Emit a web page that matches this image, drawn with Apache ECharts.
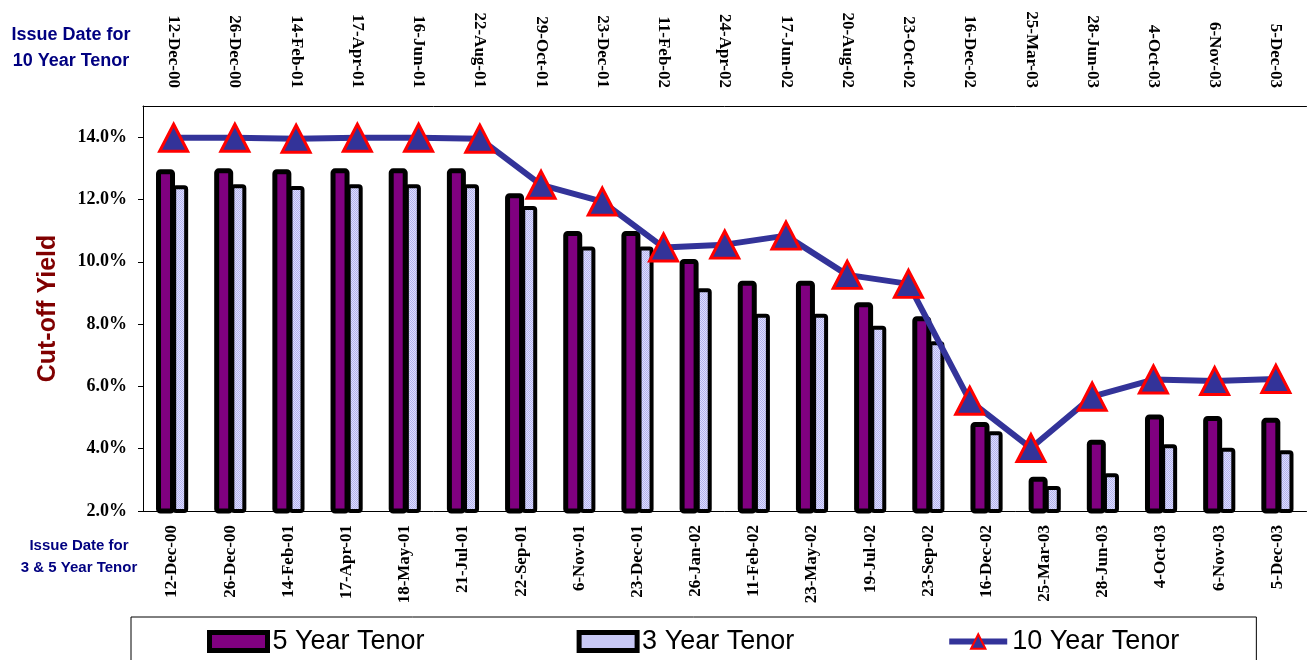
<!DOCTYPE html>
<html>
<head>
<meta charset="utf-8">
<title>Cut-off Yield</title>
<script src="https://cdn.jsdelivr.net/npm/echarts@6/dist/echarts.min.js"></script>
<style>
  html, body { margin: 0; padding: 0; background: #fff; }
  #chart { width: 1312px; height: 660px; }
</style>
</head>
<body>
<div id="chart"></div>
<script>
// issue dates for 3 & 5 year tenor (bottom axis)
const dates35 = ['12-Dec-00', '26-Dec-00', '14-Feb-01', '17-Apr-01', '18-May-01', '21-Jul-01',
  '22-Sep-01', '6-Nov-01', '23-Dec-01', '26-Jan-02', '11-Feb-02', '23-May-02', '19-Jul-02',
  '23-Sep-02', '16-Dec-02', '25-Mar-03', '28-Jun-03', '4-Oct-03', '6-Nov-03', '5-Dec-03'];

// issue dates for 10 year tenor (top axis)
const dates10 = ['12-Dec-00', '26-Dec-00', '14-Feb-01', '17-Apr-01', '16-Jun-01', '22-Aug-01',
  '29-Oct-01', '23-Dec-01', '11-Feb-02', '24-Apr-02', '17-Jun-02', '20-Aug-02', '23-Oct-02',
  '16-Dec-02', '25-Mar-03', '28-Jun-03', '4-Oct-03', '6-Nov-03', '5-Dec-03'];

// cut-off yields (%)
const fiveYear = [12.97, 13.0, 12.97, 13.0, 13.0, 13.0, 12.2, 10.99, 10.99, 10.09,
  9.39, 9.39, 8.7, 8.25, 4.86, 3.1, 4.29, 5.1, 5.05, 4.99];
const threeYear = [12.46, 12.49, 12.43, 12.49, 12.49, 12.49, 11.79, 10.49, 10.49, 9.15,
  8.33, 8.33, 7.95, 7.45, 4.56, 2.8, 3.21, 4.14, 4.03, 3.95];
const tenYear = [13.98, 13.98, 13.95, 13.98, 13.98, 13.95, 12.47, 11.93, 10.46, 10.55,
  10.84, 9.58, 9.29, 5.54, 4.02, 5.67, 6.22, 6.17, 6.24];

const serif = "'Liberation Serif', 'Times New Roman', serif";
const sans = "'Liberation Sans', Arial, sans-serif";

// dotted lavender fill, like the excel pattern
function dotPattern() {
  const c = document.createElement('canvas');
  c.width = 2;
  c.height = 2;
  const ctx = c.getContext('2d');
  ctx.fillStyle = '#dedefd';
  ctx.fillRect(0, 0, 2, 2);
  ctx.fillStyle = '#b2b2ee';
  ctx.fillRect(0, 0, 1, 1);
  ctx.fillRect(1, 1, 1, 1);
  return { image: c, repeat: 'repeat' };
}

const dots = dotPattern();

const myChart = echarts.init(document.getElementById('chart'));

const labelStyle = {
  fontFamily: serif,
  fontWeight: 'bold',
  fontSize: 17,
  color: '#000'
};

const option = {
  animation: false,
  backgroundColor: '#fff',
  grid: {
    left: 143,
    right: 5.5,
    top: 106,
    bottom: 149,
    outerBoundsMode: 'none'
  },
  legend: {
    left: 131,
    top: 617,
    padding: [11, 77, 40, 76],
    borderColor: '#000',
    borderWidth: 1,
    itemGap: 152,
    itemWidth: 58,
    itemHeight: 18,
    textStyle: { fontFamily: sans, fontSize: 27, color: '#000' },
    data: [
      { name: '5 Year Tenor', icon: 'rect', itemStyle: { color: '#800080', borderColor: '#000', borderWidth: 5 } },
      { name: '3 Year Tenor', icon: 'rect', itemStyle: { color: dots, borderColor: '#000', borderWidth: 5 } },
      { name: '10 Year Tenor', lineStyle: { color: '#333399', width: 6 } }
    ]
  },
  graphic: [
    {
      type: 'text',
      x: 71,
      y: 48,
      style: {
        text: 'Issue Date for\n10 Year Tenor',
        align: 'center',
        verticalAlign: 'middle',
        lineHeight: 26,
        fontFamily: sans,
        fontWeight: 'bold',
        fontSize: 18,
        fill: '#000080'
      }
    },
    {
      type: 'text',
      x: 79,
      y: 557,
      style: {
        text: 'Issue Date for\n3 & 5 Year Tenor',
        align: 'center',
        verticalAlign: 'middle',
        lineHeight: 22,
        fontFamily: sans,
        fontWeight: 'bold',
        fontSize: 15,
        fill: '#000080'
      }
    }
  ],
  xAxis: [
    {
      type: 'category',
      data: dates35,
      position: 'bottom',
      axisLine: { lineStyle: { color: '#000', width: 1 } },
      axisTick: { length: 5, lineStyle: { color: '#000' } },
      axisLabel: Object.assign({ rotate: 90, margin: 14, interval: 0 }, labelStyle)
    },
    {
      type: 'category',
      data: dates10,
      position: 'top',
      axisLine: { lineStyle: { color: '#000', width: 1 } },
      axisTick: { length: 5, lineStyle: { color: '#000' } },
      axisLabel: Object.assign({ rotate: 90, margin: 18, interval: 0 }, labelStyle)
    }
  ],
  yAxis: {
    type: 'value',
    min: 2,
    max: 15,
    interval: 2,
    name: 'Cut-off Yield',
    nameLocation: 'middle',
    nameRotate: 90,
    nameGap: 82,
    nameTextStyle: { fontFamily: sans, fontWeight: 'bold', fontSize: 25, color: '#800000' },
    axisLine: { show: true, lineStyle: { color: '#000', width: 1 } },
    axisTick: { show: true, length: 5, lineStyle: { color: '#000' } },
    splitLine: { show: false },
    axisLabel: Object.assign({
      margin: 16,
      showMaxLabel: false,
      formatter: function (v) { return v.toFixed(1) + '%'; }
    }, labelStyle, { fontSize: 18 })
  },
  series: [
    {
      name: '5 Year Tenor',
      type: 'bar',
      data: fiveYear,
      barWidth: 19,
      barGap: '-15%',
      itemStyle: { color: '#800080', borderColor: '#000', borderWidth: 5, borderRadius: 2 }
    },
    {
      name: '3 Year Tenor',
      type: 'bar',
      data: threeYear,
      barWidth: 16,
      itemStyle: { color: dots, borderColor: '#000', borderWidth: 4, borderRadius: 2 }
    },
    {
      name: '10 Year Tenor',
      type: 'line',
      xAxisIndex: 1,
      data: tenYear,
      symbol: 'triangle',
      symbolSize: [28, 27],
      lineStyle: { color: '#333399', width: 6 },
      itemStyle: { color: '#333399', borderColor: '#ff0000', borderWidth: 3 },
      z: 5
    }
  ]
};

option && myChart.setOption(option);
</script>
</body>
</html>
